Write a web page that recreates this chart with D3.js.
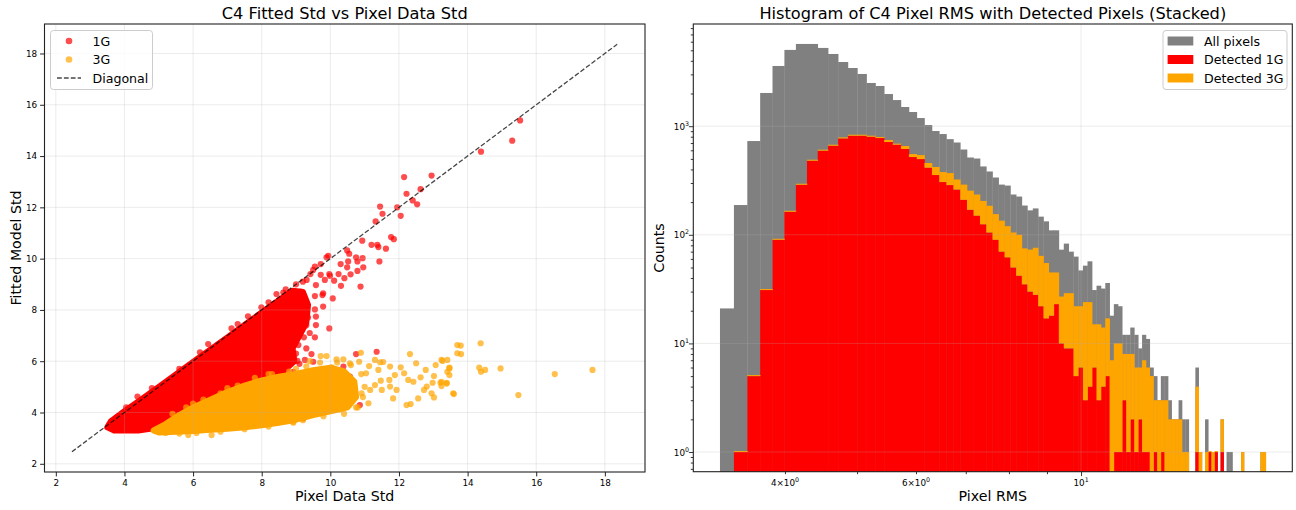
<!DOCTYPE html>
<html><head><meta charset="utf-8">
<script src="https://cdn.jsdelivr.net/npm/d3@7"></script>
<style>body{margin:0;background:#fff}svg text{font-family:"DejaVu Sans",sans-serif;fill:#000}</style>
</head><body><svg id="c" width="1296" height="510"></svg>
<script>
// ---------------- DATA ----------------
const diagonalRange = [2.47, 18.36];
const leftXTicks = [2,4,6,8,10,12,14,16,18];
const leftYTicks = [2,4,6,8,10,12,14,16,18];
// dense (saturated) core outlines of each scatter cloud, data units
const red1GCore = [[3.5,3.42],[3.6,3.65],[4.0,4.05],[4.5,4.52],[5.0,5.0],[5.5,5.48],[6.0,5.97],[6.5,6.45],[7.0,6.93],[7.5,7.42],[8.0,7.9],[8.5,8.38],[8.9,8.75],[9.2,8.7],[9.35,8.2],[9.3,7.5],[9.1,7.0],[8.9,6.5],[8.95,6.0],[8.7,5.7],[8.3,5.35],[7.6,4.9],[6.8,4.4],[6.0,3.85],[5.2,3.45],[4.4,3.3],[3.7,3.3]];
const orange3GCore = [[4.85,3.3],[5.2,3.55],[5.6,3.9],[6.0,4.2],[6.5,4.5],[7.0,4.8],[7.5,5.05],[8.0,5.25],[8.5,5.4],[9.0,5.5],[9.5,5.65],[10.0,5.75],[10.4,5.6],[10.7,5.2],[10.75,4.6],[10.5,4.2],[10.0,4.05],[9.5,3.9],[9.0,3.72],[8.5,3.6],[8.0,3.5],[7.5,3.42],[7.0,3.37],[6.5,3.33],[6.0,3.28],[5.5,3.25],[5.0,3.22]];
// individual scatter points (Pixel Data Std, Fitted Model Std)
const red1GPoints = [[3.53,3.45],[3.87,3.45],[4.21,3.58],[4.60,3.51],[4.98,3.51],[5.37,3.71],
[4.05,4.2],[4.38,4.62],[4.8,4.95],[5.6,5.7],[6.2,6.35],[6.44,6.67],[7.12,7.28],[7.3,7.45],[7.6,7.75],[7.99,8.10],[8.2,8.3],[8.43,8.62],[8.63,8.68],[8.7,8.8],[8.82,8.59],[9.0,9.0],[9.2,9.1],
[8.58,6.20],[8.39,6.57],[8.68,5.79],[8.19,5.66],[8.87,7.09],[8.73,6.70],[8.09,6.11],[7.90,5.79],[8.53,5.53],
[7.7,5.4],[7.9,5.55],[8.2,5.9],[8.4,6.1],[8.3,6.35],[8.6,6.45],[8.8,6.5],[9.0,6.3],[8.8,6.0],[8.5,5.9],[8.2,5.45],[8.75,5.6],[9.1,5.9],[9.3,6.5],[9.4,7.1],[9.3,7.4],[9.0,7.4],[9.35,7.7],
[12.15,13.18],[12.95,13.24],[12.22,12.53],[12.63,12.71],[12.40,12.27],[12.53,12.12],[11.45,12.03],[11.95,12.0],[11.52,11.75],[12.05,11.67],[11.32,11.45],
[10.93,10.70],[11.20,10.54],[11.37,10.54],[11.40,10.45],[11.62,10.39],[11.77,10.84],[11.85,10.76],[11.43,9.89],
[10.49,10.32],[10.55,10.19],[10.75,10.05],[10.94,10.02],[10.79,9.89],[10.52,9.89],[10.49,9.66],[10.96,9.66],[10.79,9.52],
[9.94,10.11],[9.89,10.05],[9.72,9.79],[9.55,9.69],[9.50,9.56],[10.30,9.79],[10.24,9.40],[10.59,9.39],[10.41,9.24],[9.97,9.40],[9.99,9.33],[9.72,9.37],[9.42,9.40],[9.31,9.17],[9.84,9.17],[10.11,9.14],[10.31,8.94],[10.88,8.91],[9.58,8.97],[9.79,8.65],[9.77,8.58],[10.07,8.45],[9.55,8.54],[9.79,8.13],[9.55,8.02],[9.29,8.13],[9.26,7.87],[9.58,7.74],[9.58,7.41],[9.97,7.28],[9.55,6.93],[9.23,6.93],[9.07,6.63],[8.90,7.19],[8.82,7.54],[8.92,7.74],[8.63,6.70],[8.61,6.24],[8.92,6.18],[9.45,6.28],[9.26,6.05],[9.04,6.01],[9.50,5.98],[10.75,6.28],[11.35,6.37],[8.92,5.59],[10.38,5.79],[10.57,5.40],[10.47,5.14],[9.41,4.75],[9.50,4.20],[10.86,4.29],[9.21,3.77],[8.72,4.88],[8.97,8.39],[9.13,8.71],
[15.53,15.39],[15.30,14.60],[14.39,14.17]];
const orange3GPoints = [[13.80,6.61],[14.38,6.70],[13.81,6.28],[13.24,6.05],[13.41,6.05],[13.47,5.75],[13.41,5.59],[13.47,5.46],[13.24,5.2],[13.24,5.03],[13.39,5.13],[13.60,4.72],[14.34,5.75],[14.39,5.59],[14.51,5.66],[14.96,5.72],[15.48,4.68],[16.54,5.5],[17.64,5.66],
[12.32,6.28],[12.05,5.76],[12.50,5.92],[12.78,5.66],[13.07,5.85],[13.27,6.01],[13.47,5.72],[13.70,6.63],[13.70,6.31],
[9.72,6.20],[9.89,6.20],[10.89,6.33],[10.18,6.07],[10.84,5.98],[11.13,5.81],[11.30,6.05],[11.45,5.96],[11.54,5.97],[11.40,5.66],[11.04,5.53],[11.74,5.79],[11.88,5.46],[11.72,5.27],[11.47,5.24],[12.15,5.53],[12.27,5.27],[12.42,5.20],[12.63,5.37],[13.02,5.42],[12.98,5.16],[13.21,5.16],[12.81,5.01],[12.73,4.88],[12.95,4.75],[13.02,4.59],[13.58,4.75],[13.39,5.16],[12.56,4.55],[12.22,4.29],[12.34,4.33],[11.83,4.55],[11.50,4.88],[11.93,4.88],[11.74,5.01],[11.11,4.36],[10.91,4.75],[11.16,4.88],[11.30,5.07],[10.75,4.20],[10.28,4.12],[9.79,4.03],[8.92,3.60],[8.65,3.86],[10.57,5.92],[10.38,6.07],[10.04,5.76],
[4.89,3.29],[5.37,3.38],[5.86,3.12],[6.54,3.12],[7.22,3.51],[8.0,3.64],[8.58,3.77],[8.92,3.64],
[5.4,3.95],[5.8,4.2],[6.0,4.35],[6.3,4.5],[6.8,4.75],[7.0,4.95],[7.3,5.05],[7.8,5.35],[8.2,5.5],[8.3,5.5],[8.8,5.6],[9.0,5.7],[9.3,5.8],[9.4,6.0],[9.7,5.95],[10.2,5.95],[10.6,5.85],
[5.2,3.2],[5.6,3.18],[6.1,3.2],[6.8,3.25],[7.5,3.35],[8.2,3.45],[9.2,3.7],[9.8,3.85],[10.4,3.95],
[10.9,5.5],[11.0,5.0],[10.95,4.6],[10.8,4.2]];

// histogram: 100 equal-width bins between these edges
const histRange = [3.271, 17.711];
const histBinCount = 100;
const allPixels = [21,188,730,2023,3586,5040,5720,5720,5256,4625,
 3900,3435,3027,2500,2346,1978,1741,1502,1351,1189,
 1025,903,847,760,708,610,515,504,426,383,
 337,290,284,235,225,186,168,175,147,133,
 110,110,73,83,70,63,47,52,57,31,
 34,32,36,18,23,22,12,12,14,12,
 9,12,11,6,5,3,5,5,3,2,
 2,3,2,2,0,0,6,1,0,2,
 1,1,1,0,2,0,1,1,0,0,
 0,1,0,0,0,0,0,0,1,1];
const detected1G = [0,1,5,31,90,163,289,481,595,661,
 772,817,817,800,778,715,676,617,520,498,
 415,355,306,287,261,210,170,150,125,105,
 90,70,62,50,42,35,30,28,22,17,
 18,23,10,9,9,5,6,3,4,6,
 3,4,5,0,1,1,3,1,2,1,
 2,1,1,0,1,0,1,0,0,0,
 0,0,0,0,0,0,1,0,0,0,
 1,0,1,0,1,0,0,0,0,0,
 0,0,0,0,0,0,0,0,0,0];
const detected3G = [0,0,0,0,0,0,1,2,2,3,
 3,3,3,5,12,31,14,40,34,44,
 43,66,72,83,62,80,85,85,80,80,
 65,65,58,55,58,40,43,48,42,38,
 27,22,17,20,20,17,16,21,20,9,
 12,10,12,7,9,9,5,7,6,5,
 4,6,5,5,2,3,2,3,2,2,
 2,2,1,1,0,0,3,1,0,1,
 0,1,0,0,1,0,0,0,0,0,
 0,1,0,0,0,0,0,0,1,1];
const rightXMajor = [10];
const rightXMinor = [4,5,6,7,8,9];
const rightXLabelled = [[4,"4","0"],[6,"6","0"],[10,null,"1"]];
const rightYMajor = [1,10,100,1000];
const legendLeft = ["1G","3G","Diagonal"];
const legendRight = ["All pixels","Detected 1G","Detected 3G"];
const colors = {g1:"#ff0000", g3:"#ffa500", all:"#808080"};

// ---------------- DRAW ----------------
const svg = d3.select("#c");
const gridStyle = s => s.attr("stroke","#b0b0b0").attr("stroke-opacity",0.3).attr("stroke-width",0.8);
const defs = svg.append("defs");

// ===== LEFT SCATTER =====
const L = {l:44.5, r:645, t:24, b:472};
const xL = d3.scaleLinear().domain([1.67,19.17]).range([L.l,L.r]);
const yL = d3.scaleLinear().domain([1.68,19.15]).range([L.b,L.t]);
defs.append("clipPath").attr("id","clipL").append("rect").attr("x",L.l).attr("y",L.t).attr("width",L.r-L.l).attr("height",L.b-L.t);
const gL = svg.append("g").attr("clip-path","url(#clipL)");
const hull = d3.line().x(d=>xL(d[0])).y(d=>yL(d[1])).curve(d3.curveLinearClosed);
gL.append("path").attr("d",hull(red1GCore)).attr("fill",colors.g1).attr("stroke",colors.g1).attr("stroke-width",6).attr("stroke-linejoin","round");
gL.selectAll("circle.r").data(red1GPoints).join("circle").attr("class","r")
  .attr("cx",d=>xL(d[0])).attr("cy",d=>yL(d[1])).attr("r",3.1).attr("fill",colors.g1).attr("fill-opacity",0.7);
gL.append("path").attr("d",hull(orange3GCore)).attr("fill",colors.g3).attr("stroke",colors.g3).attr("stroke-width",6).attr("stroke-linejoin","round");
gL.selectAll("circle.o").data(orange3GPoints).join("circle").attr("class","o")
  .attr("cx",d=>xL(d[0])).attr("cy",d=>yL(d[1])).attr("r",3.1).attr("fill",colors.g3).attr("fill-opacity",0.7);
// grid
gL.selectAll("line.gx").data(leftXTicks).join("line").attr("x1",d=>xL(d)).attr("x2",d=>xL(d)).attr("y1",L.t).attr("y2",L.b).call(gridStyle);
gL.selectAll("line.gy").data(leftYTicks).join("line").attr("y1",d=>yL(d)).attr("y2",d=>yL(d)).attr("x1",L.l).attr("x2",L.r).call(gridStyle);
// diagonal
gL.append("line").attr("x1",xL(diagonalRange[0])).attr("y1",yL(diagonalRange[0])).attr("x2",xL(diagonalRange[1])).attr("y2",yL(diagonalRange[1]))
  .attr("stroke","#000").attr("stroke-opacity",0.72).attr("stroke-width",1.3).attr("stroke-dasharray","4.8,2.1");
// axes
const axL = svg.append("g");
axL.append("g").attr("transform",`translate(0,${L.b})`).call(d3.axisBottom(xL).tickValues(leftXTicks).tickSize(4.4).tickPadding(3).tickFormat(d3.format("d")));
axL.append("g").attr("transform",`translate(${L.l},0)`).call(d3.axisLeft(yL).tickValues(leftYTicks).tickSize(4.4).tickPadding(3).tickFormat(d3.format("d")));
axL.selectAll(".domain").remove();
axL.selectAll(".tick line").attr("stroke","#222").attr("stroke-width",1);
axL.selectAll(".tick text").attr("font-size",8.8).attr("font-family","DejaVu Sans").attr("fill","#222");
svg.append("rect").attr("x",L.l).attr("y",L.t).attr("width",L.r-L.l).attr("height",L.b-L.t).attr("fill","none").attr("stroke","#222").attr("stroke-width",1.1);
svg.append("text").attr("x",(L.l+L.r)/2).attr("y",19).attr("text-anchor","middle").attr("font-size",16.2).text("C4 Fitted Std vs Pixel Data Std");
svg.append("text").attr("x",(L.l+L.r)/2).attr("y",501).attr("text-anchor","middle").attr("font-size",14.2).text("Pixel Data Std");
svg.append("text").attr("transform","translate(21,248) rotate(-90)").attr("text-anchor","middle").attr("font-size",14.2).text("Fitted Model Std");
// legend left
const lg = svg.append("g");
lg.append("rect").attr("x",50.5).attr("y",30.5).attr("width",102).attr("height",59).attr("rx",3).attr("fill","#fff").attr("fill-opacity",0.8).attr("stroke","#ccc");
legendLeft.forEach((t,i)=>{
  const y = 41 + i*18.5;
  if(i<2) lg.append("circle").attr("cx",69).attr("cy",y).attr("r",3.3).attr("fill",i===0?colors.g1:colors.g3).attr("fill-opacity",0.7);
  else lg.append("line").attr("x1",57).attr("x2",81).attr("y1",y).attr("y2",y).attr("stroke","#000").attr("stroke-opacity",0.72).attr("stroke-width",1.3).attr("stroke-dasharray","4.8,2.1");
  lg.append("text").attr("x",92.5).attr("y",y+4.5).attr("font-size",12.6).text(t);
});

// ===== RIGHT HISTOGRAM =====
const R = {l:693.3, r:1292.3, t:24, b:471.7};
const xR = d3.scaleLog().domain([3.0118,19.23]).range([R.l,R.r]);
const yR = d3.scaleLog().domain([0.659,8730]).range([R.b,R.t]);
defs.append("clipPath").attr("id","clipR").append("rect").attr("x",R.l).attr("y",R.t).attr("width",R.r-R.l).attr("height",R.b-R.t);
const gR = svg.append("g").attr("clip-path","url(#clipR)");
const bw = (histRange[1]-histRange[0])/histBinCount;
const bins = d3.range(histBinCount).map(i=>({i, x0:histRange[0]+i*bw, x1:histRange[0]+(i+1)*bw, all:allPixels[i], g1:detected1G[i], g3:detected3G[i]}));
const bx = d=>xR(d.x0), bwid = d=>xR(d.x1)-xR(d.x0)+0.35;
const yv = v => v>0 ? yR(v) : R.b+10;
gR.selectAll("rect.all").data(bins.filter(d=>d.all>0)).join("rect").attr("class","all")
  .attr("x",bx).attr("width",bwid).attr("y",d=>yv(d.all)).attr("height",d=>R.b+10-yv(d.all)).attr("fill",colors.all);
gR.selectAll("rect.g1").data(bins.filter(d=>d.g1>0)).join("rect").attr("class","g1")
  .attr("x",bx).attr("width",bwid).attr("y",d=>yv(d.g1)).attr("height",d=>R.b+10-yv(d.g1)).attr("fill",colors.g1);
gR.selectAll("rect.g3").data(bins.filter(d=>d.g1+d.g3>0)).join("rect").attr("class","g3")
  .attr("x",bx).attr("width",bwid)
  .attr("y",d=>{const top=yv(d.g1+d.g3), bot=yv(d.g1); return Math.min(top, bot-1);})
  .attr("height",d=>{const top=yv(d.g1+d.g3), bot=yv(d.g1); return Math.max(bot-top,1);})
  .attr("fill",colors.g3);
// grid on top
gR.selectAll("line.gx").data(rightXMajor).join("line").attr("x1",d=>xR(d)).attr("x2",d=>xR(d)).attr("y1",R.t).attr("y2",R.b).call(gridStyle);
gR.selectAll("line.gy").data(rightYMajor).join("line").attr("y1",d=>yR(d)).attr("y2",d=>yR(d)).attr("x1",R.l).attr("x2",R.r).call(gridStyle);
// ticks
const axR = svg.append("g");
const minorY = [];
[0.1,1,10,100,1000].forEach(dec=>{for(let k=2;k<=9;k++){const v=dec*k; if(v>=0.659 && v<=8730) minorY.push(v);}});
axR.append("g").attr("transform",`translate(0,${R.b})`).call(d3.axisBottom(xR).tickValues(rightXMajor).tickSize(4.4).tickFormat(""));
axR.append("g").attr("transform",`translate(0,${R.b})`).call(d3.axisBottom(xR).tickValues(rightXMinor).tickSize(2.5).tickFormat(""));
axR.append("g").attr("transform",`translate(${R.l},0)`).call(d3.axisLeft(yR).tickValues(rightYMajor).tickSize(4.4).tickFormat(""));
axR.append("g").attr("transform",`translate(${R.l},0)`).call(d3.axisLeft(yR).tickValues(minorY).tickSize(2.5).tickFormat(""));
axR.selectAll(".domain").remove();
axR.selectAll(".tick line").attr("stroke","#222").attr("stroke-width",0.9);
rightYMajor.forEach(v=>{
  const t = axR.append("text").attr("x",689).attr("y",yR(v)+3.5).attr("text-anchor","end").attr("font-size",8.8).attr("fill","#222");
  t.append("tspan").text("10");
  t.append("tspan").attr("dy",-4).attr("font-size",6.3).text(String(Math.round(Math.log10(v))));
});
rightXLabelled.forEach(([v,m,e])=>{
  const t = axR.append("text").attr("x",xR(v)).attr("y",486).attr("text-anchor","middle").attr("font-size",8.8).attr("fill","#222");
  t.append("tspan").text(m ? m+"\u00d710" : "10");
  t.append("tspan").attr("dy",-4).attr("font-size",6.3).text(e);
});
svg.append("rect").attr("x",R.l).attr("y",R.t).attr("width",R.r-R.l).attr("height",R.b-R.t).attr("fill","none").attr("stroke","#222").attr("stroke-width",1.1);
svg.append("text").attr("x",(R.l+R.r)/2).attr("y",19).attr("text-anchor","middle").attr("font-size",16.2).text("Histogram of C4 Pixel RMS with Detected Pixels (Stacked)");
svg.append("text").attr("x",(R.l+R.r)/2).attr("y",501).attr("text-anchor","middle").attr("font-size",14.2).text("Pixel RMS");
svg.append("text").attr("transform","translate(664,248) rotate(-90)").attr("text-anchor","middle").attr("font-size",14.2).text("Counts");
// legend right
const lr = svg.append("g");
lr.append("rect").attr("x",1163).attr("y",30.5).attr("width",124).attr("height",59).attr("rx",3).attr("fill","#fff").attr("fill-opacity",0.8).attr("stroke","#ccc");
legendRight.forEach((t,i)=>{
  const y = 41 + i*18.5;
  lr.append("rect").attr("x",1167.6).attr("y",y-4.5).attr("width",25.7).attr("height",9).attr("fill",[colors.all,colors.g1,colors.g3][i]);
  lr.append("text").attr("x",1204).attr("y",y+4.5).attr("font-size",12.6).text(t);
});
</script></body></html>
